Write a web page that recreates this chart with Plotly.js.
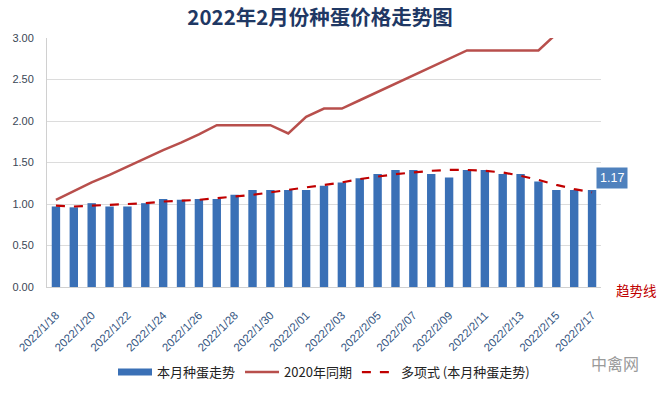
<!DOCTYPE html>
<html>
<head>
<meta charset="utf-8">
<script src="https://cdn.plot.ly/plotly-3.0.1.min.js"></script>
<style>html,body{margin:0;padding:0;background:#fff;}#chart{width:660px;height:393px;}</style>
</head>
<body>
<div id="chart"></div>
<script>
const dates = ["2022/1/18","2022/1/19","2022/1/20","2022/1/21","2022/1/22","2022/1/23","2022/1/24","2022/1/25","2022/1/26","2022/1/27","2022/1/28","2022/1/29","2022/1/30","2022/1/31","2022/2/01","2022/2/02","2022/2/03","2022/2/04","2022/2/05","2022/2/06","2022/2/07","2022/2/08","2022/2/09","2022/2/10","2022/2/11","2022/2/12","2022/2/13","2022/2/14","2022/2/15","2022/2/16","2022/2/17"];
const thisMonth = [0.97,0.96,1.01,0.97,0.97,1.01,1.06,1.05,1.06,1.06,1.11,1.17,1.17,1.17,1.17,1.22,1.26,1.31,1.36,1.41,1.41,1.36,1.32,1.41,1.41,1.36,1.36,1.27,1.17,1.17,1.17];
const sameperiod2020 = [1.05,1.16,1.26,1.35,1.45,1.55,1.65,1.74,1.84,1.95,1.95,1.95,1.95,1.85,2.05,2.15,2.15,2.25,2.35,2.45,2.55,2.65,2.75,2.85,2.85,2.85,2.85,2.85,3.05,3.15,3.25];
const trend = [0.98,0.97,0.98,0.99,1.00,1.01,1.03,1.04,1.05,1.07,1.09,1.11,1.14,1.17,1.20,1.23,1.26,1.30,1.33,1.36,1.38,1.40,1.41,1.41,1.40,1.38,1.34,1.29,1.23,1.18,1.14];
const tickLabels = dates.filter((d,i)=>i%2===0);
const yTicks = [0,0.5,1,1.5,2,2.5,3];
const seriesNames = ['本月种蛋走势','2020年同期','多项式 (本月种蛋走势)'];

const font = "'Noto Sans CJK SC', 'Noto Sans', sans-serif";
const latin = "'Liberation Sans', Arial, sans-serif";
const barColor = '#3a70b6';
const traces = [
  {type:'bar', name:seriesNames[0], x:dates, y:thisMonth, marker:{color:barColor, line:{width:0}}, showlegend:false},
  {type:'scatter', mode:'lines', name:seriesNames[0], x:[null], y:[null], line:{color:barColor, width:7}, showlegend:true},
  {type:'scatter', mode:'lines', name:seriesNames[1], x:dates, y:sameperiod2020, line:{color:'#b84f4c', width:2.5}},
  {type:'scatter', mode:'lines', name:seriesNames[2], x:dates, y:trend, line:{color:'#c00000', width:2.2, dash:'dash'}}
];
const layout = {
  width:660, height:393,
  margin:{l:47, r:59, t:38, b:106},
  paper_bgcolor:'#fff', plot_bgcolor:'#fff',
  font:{family:font, color:'#444'},
  title:{text:'2022年2月份种蛋价格走势图', x:0.485, xanchor:'center', y:0.955, yanchor:'middle', font:{family:font, size:20.5, color:'#1f3864', weight:'bold'}},
  bargap:0.53,
  showlegend:true,
  legend:{orientation:'h', x:0.5, xanchor:'center', yref:'container', y:0.053, yanchor:'middle', font:{size:13, color:'#222', family:font}, itemwidth:34, traceorder:'normal'},
  xaxis:{type:'category', tickmode:'array', tickvals:tickLabels, ticktext:tickLabels, tickangle:-45, ticklabelstandoff:16, tickfont:{size:11.5, color:'#34557f', family:latin}, showgrid:false, showline:true, linecolor:'#d0d0d0', linewidth:1, ticks:'', automargin:false, range:[-0.5,30.5]},
  yaxis:{range:[0,3], tickmode:'array', tickvals:yTicks, ticktext:yTicks.map(v=>v.toFixed(2)), ticklabelstandoff:10, tickfont:{size:11, color:'#3a4756', family:latin}, showgrid:true, gridcolor:'#dcdcdc', gridwidth:1, showline:true, linecolor:'#d0d0d0', zeroline:false, ticks:'', automargin:false},
  annotations:[
    {x:dates[dates.length-1], y:thisMonth[thisMonth.length-1], xref:'x', yref:'y', text:thisMonth[thisMonth.length-1].toFixed(2), showarrow:false, xshift:20, yshift:12, bgcolor:'#4f81bd', borderpad:3, font:{size:12.5, color:'#fff', family:latin}},
    {x:1.023, y:-0.012, xref:'paper', yref:'paper', xanchor:'left', yanchor:'middle', text:'趋势线', showarrow:false, font:{size:13.5, color:'#c00000', family:font}},
    {x:1.025, y:-0.305, xref:'paper', yref:'paper', xanchor:'center', yanchor:'middle', text:'中禽网', showarrow:false, font:{size:16, color:'#9a9a9a', family:font}}
  ]
};
Plotly.newPlot('chart', traces, layout, {displayModeBar:false, staticPlot:true});
</script>
</body>
</html>
